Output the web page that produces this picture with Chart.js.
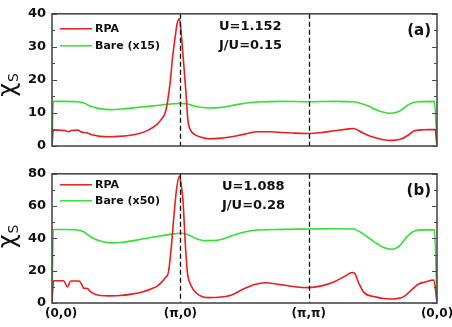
<!DOCTYPE html>
<html>
<head>
<meta charset="utf-8">
<script src="https://cdn.jsdelivr.net/npm/chart.js@4/dist/chart.umd.min.js"></script>
<style>
  body { margin: 0; background: #fff; }
  #wrap { position: relative; width: 452px; height: 327px; }
  canvas { position: absolute; left: 0; }
  #chartA { top: 0; }
  #chartB { top: 160px; }
</style>
</head>
<body>
<div id="wrap">
  <canvas id="chartA" width="452" height="160"></canvas>
  <canvas id="chartB" width="452" height="167"></canvas>
</div>
<script>
// path positions along (0,0) -> (pi,0) -> (pi,pi) -> (0,0)
const xTickValues = [0, 1, 2, 3];
const xTickLabels = ['(0,0)', '(\u03c0,0)', '(\u03c0,\u03c0)', '(0,0)'];

// panel (a): U=1.152, J/U=0.15
const rpaAx = [0, 0.01, 0.05, 0.10, 0.13, 0.15, 0.20, 0.23, 0.27, 0.32, 0.375, 0.45, 0.52, 0.60, 0.68, 0.75, 0.82, 0.86, 0.88, 0.90, 0.92, 0.94, 0.96, 0.975, 0.993, 1.005, 1.02, 1.04, 1.06, 1.08, 1.11, 1.16, 1.22, 1.30, 1.40, 1.50, 1.60, 1.70, 1.80, 1.90, 2.00, 2.10, 2.20, 2.30, 2.35, 2.42, 2.50, 2.58, 2.65, 2.72, 2.78, 2.83, 2.90, 2.985, 3.0];
const rpaA = [0, 4.8, 4.8, 4.7, 4.3, 4.7, 4.8, 4.2, 4.0, 3.3, 2.9, 2.8, 2.9, 3.2, 3.8, 4.8, 6.6, 8.5, 9.8, 13.3, 19, 27, 33, 37, 38.5, 35, 27.8, 18.2, 7.5, 4.8, 3.5, 2.7, 2.2, 2.3, 2.8, 3.6, 4.3, 4.3, 4.1, 3.9, 3.8, 4.1, 4.6, 5.1, 5.3, 4.0, 2.7, 1.9, 1.7, 2.1, 3.4, 4.7, 4.9, 5.0, 0];
const bareAx = [0, 0.01, 0.10, 0.20, 0.25, 0.30, 0.37, 0.45, 0.55, 0.65, 0.75, 0.85, 0.95, 1.0, 1.06, 1.12, 1.22, 1.32, 1.45, 1.60, 1.80, 2.0, 2.2, 2.35, 2.45, 2.55, 2.64, 2.71, 2.78, 2.85, 2.98, 3.0];
const bareA = [0, 13.5, 13.5, 13.4, 13.0, 12.0, 11.3, 11.0, 11.2, 11.6, 12.0, 12.4, 12.8, 12.9, 12.7, 12.0, 11.5, 11.7, 12.6, 13.3, 13.5, 13.4, 13.5, 13.4, 12.3, 10.6, 9.9, 10.6, 12.6, 13.4, 13.5, 0];

// panel (b): U=1.088, J/U=0.28
const rpaBx = [0, 0.012, 0.09, 0.12, 0.146, 0.21, 0.235, 0.245, 0.275, 0.30, 0.34, 0.375, 0.45, 0.53, 0.62, 0.71, 0.78, 0.82, 0.86, 0.88, 0.907, 0.93, 0.95, 0.97, 0.993, 1.005, 1.02, 1.04, 1.055, 1.08, 1.13, 1.18, 1.22, 1.30, 1.40, 1.50, 1.58, 1.66, 1.75, 1.85, 1.95, 2.0, 2.1, 2.2, 2.28, 2.34, 2.36, 2.39, 2.43, 2.52, 2.60, 2.65, 2.72, 2.755, 2.80, 2.86, 2.90, 2.975, 3.0];
const rpaB = [0, 13.8, 13.8, 10.0, 13.6, 13.6, 11, 9.2, 9.0, 7.0, 5.2, 4.6, 4.4, 4.6, 5.5, 7.0, 9.0, 10.5, 13.4, 15.4, 19, 35, 54, 70, 78.6, 74, 64, 35, 19, 11.5, 5.7, 3.7, 3.3, 3.6, 5.0, 9.0, 11.5, 12.5, 11.8, 10.5, 9.6, 9.5, 10.6, 13.2, 16.5, 18.9, 18.2, 12.4, 6.6, 3.8, 2.6, 2.5, 3.2, 4.7, 8.0, 11.9, 12.8, 14.2, 0];
const bareBx = [0, 0.01, 0.10, 0.20, 0.25, 0.30, 0.37, 0.45, 0.55, 0.65, 0.75, 0.85, 0.95, 1.0, 1.05, 1.12, 1.20, 1.30, 1.40, 1.50, 1.60, 1.80, 2.0, 2.2, 2.35, 2.42, 2.50, 2.58, 2.65, 2.71, 2.76, 2.82, 2.90, 2.98, 3.0];
const bareB = [0, 45.5, 45.5, 45.2, 44, 41, 38.5, 37.2, 37.6, 38.8, 40.3, 41.6, 42.8, 43.2, 42.6, 40, 38.6, 39, 41.6, 44, 45.2, 45.6, 45.8, 46, 45.8, 43, 38.5, 34.5, 33.3, 35.5, 40.5, 44.5, 45.3, 45.3, 0];

const RED = '#ee1c1c';
const GREEN = '#33e033';
const FONT = '"DejaVu Sans", sans-serif';

function toPoints(xs, ys) {
  return xs.map((x, i) => ({ x: x, y: ys[i] }));
}

// frame, inward ticks, dashed guides, legend and labels
const panelDecor = {
  id: 'panelDecor',
  afterDatasetsDraw(chart, args, opts) {
    const ctx = chart.ctx;
    const area = chart.chartArea;
    const xs = chart.scales.x;
    const ys = chart.scales.y;

    ctx.save();
    // dashed guides at (pi,0) and (pi,pi)
    ctx.strokeStyle = '#111';
    ctx.lineWidth = 1.3;
    ctx.setLineDash([5, 3]);
    [1, 2].forEach(v => {
      const px = Math.round(xs.getPixelForValue(v)) + 0.5;
      ctx.beginPath();
      ctx.moveTo(px, area.top);
      ctx.lineTo(px, area.bottom);
      ctx.stroke();
    });
    ctx.setLineDash([]);

    // frame
    ctx.strokeStyle = '#4a4a4a';
    ctx.lineWidth = 1.6;
    ctx.strokeRect(area.left, area.top, area.right - area.left, area.bottom - area.top);

    // inward ticks on left and right axes
    ctx.lineWidth = 1.2;
    for (let v = ys.min; v <= ys.max; v += opts.minorStep) {
      const py = Math.round(ys.getPixelForValue(v)) + 0.5;
      const len = (v % opts.majorStep === 0) ? 5 : 3;
      ctx.beginPath();
      ctx.moveTo(area.left, py);
      ctx.lineTo(area.left + len, py);
      ctx.moveTo(area.right, py);
      ctx.lineTo(area.right - len, py);
      ctx.stroke();
    }

    // legend
    const items = [
      { color: RED, text: chart.data.datasets[0].label, y: area.top + opts.legendY[0] },
      { color: GREEN, text: chart.data.datasets[1].label, y: area.top + opts.legendY[1] }
    ];
    ctx.font = 'bold 11px ' + FONT;
    ctx.textBaseline = 'middle';
    ctx.textAlign = 'left';
    items.forEach(it => {
      ctx.strokeStyle = it.color;
      ctx.lineWidth = 1.5;
      ctx.beginPath();
      ctx.moveTo(60, it.y);
      ctx.lineTo(92, it.y);
      ctx.stroke();
      ctx.fillStyle = '#111';
      ctx.fillText(it.text, 95, it.y + 0.5);
    });

    // parameter text and panel tag
    ctx.font = 'bold 13px ' + FONT;
    ctx.textBaseline = 'alphabetic';
    ctx.fillText(opts.uText, opts.uX, area.top + 16);
    ctx.fillText(opts.jText, opts.uX, area.top + 35);
    ctx.font = 'bold 15px ' + FONT;
    ctx.textAlign = 'right';
    ctx.fillText(opts.tag, area.right - 6, area.top + 21);

    // y title: chi with subscript S
    ctx.textAlign = 'left';
    const chiFont = '24px ' + FONT;
    const subFont = '14px ' + FONT;
    ctx.font = chiFont;
    const wChi = ctx.measureText('\u03c7').width;
    ctx.font = subFont;
    const wSub = ctx.measureText('S').width;
    const total = wChi + 1 + wSub;
    const cy = (area.top + area.bottom) / 2 + opts.titleShift;
    ctx.translate(15, cy + total / 2);
    ctx.rotate(-Math.PI / 2);
    ctx.font = chiFont;
    ctx.fillText('\u03c7', 0, 0);
    ctx.font = subFont;
    ctx.fillText('S', wChi + 1, 3);
    ctx.restore();

    // path labels under the lower panel
    if (opts.showX) {
      ctx.save();
      ctx.font = 'bold 12px ' + FONT;
      ctx.fillStyle = '#111';
      ctx.textBaseline = 'middle';
      xTickValues.forEach((v, i) => {
        const px = xs.getPixelForValue(v);
        if (i === 0) {
          ctx.textAlign = 'left';
          ctx.fillText(xTickLabels[i], px - 7, area.bottom + 11);
        } else {
          ctx.textAlign = 'center';
          ctx.fillText(xTickLabels[i], px, area.bottom + 11);
        }
      });
      ctx.restore();
    }
  }
};

function makePanel(canvasId, rpaPts, barePts, bareLabel, yMax, step, padding, decor) {
  return new Chart(document.getElementById(canvasId), {
    type: 'line',
    data: {
      datasets: [
        { label: 'RPA', data: rpaPts, borderColor: RED, borderWidth: 1.6, pointRadius: 0, cubicInterpolationMode: 'monotone' },
        { label: bareLabel, data: barePts, borderColor: GREEN, borderWidth: 1.6, pointRadius: 0, cubicInterpolationMode: 'monotone' }
      ]
    },
    options: {
      responsive: false,
      animation: false,
      devicePixelRatio: 1,
      layout: { padding: padding },
      plugins: {
        legend: { display: false },
        tooltip: { enabled: false },
        panelDecor: decor
      },
      scales: {
        x: { type: 'linear', min: 0, max: 3, display: false },
        y: {
          min: 0,
          max: yMax,
          ticks: { stepSize: step, padding: 6, color: '#111', font: { family: FONT, weight: 'bold', size: 13 } },
          grid: { display: false, drawTicks: false },
          border: { display: false },
          afterFit(scale) { scale.width = 52; }
        }
      }
    },
    plugins: [panelDecor]
  });
}

makePanel('chartA', toPoints(rpaAx, rpaA), toPoints(bareAx, bareA), 'Bare (x15)', 40, 10,
  { left: 0, right: 15, top: 8, bottom: 14 },
  { minorStep: 5, majorStep: 10, legendY: [15, 32], uText: 'U=1.152', jText: 'J/U=0.15', uX: 219, tag: '(a)', titleShift: 5, showX: false });

makePanel('chartB', toPoints(rpaBx, rpaB), toPoints(bareBx, bareB), 'Bare (x50)', 80, 20,
  { left: 0, right: 15, top: 6, bottom: 24 },
  { minorStep: 10, majorStep: 20, legendY: [11, 27], uText: 'U=1.088', jText: 'J/U=0.28', uX: 222, tag: '(b)', titleShift: -2, showX: true });
</script>
</body>
</html>
